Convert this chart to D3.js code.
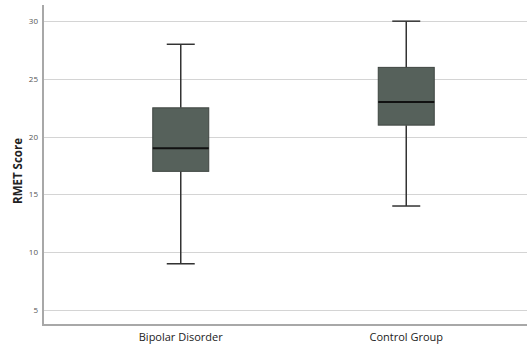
<!DOCTYPE html>
<html lang="en">
<head>
<meta charset="UTF-8">
<title>RMET Score boxplot</title>
<script src="https://d3js.org/d3.v7.min.js"></script>
<style>
  body { margin: 0; background: #fff; }
  .grid line { stroke: #d4d4d4; stroke-width: 1px; }
  .tick-label { font: 8px "Open Sans", sans-serif; fill: #555; }
  .cat-label { font: 11px "Open Sans", sans-serif; fill: #222; }
  .y-title { font: bold 11.5px "Open Sans", sans-serif; fill: #222; }
</style>
</head>
<body>
<script>
  const groups = ["Bipolar Disorder", "Control Group"];
  const minVals = [9, 14];
  const q1Vals = [17, 21];
  const medianVals = [19, 23];
  const q3Vals = [22.5, 26];
  const maxVals = [28, 30];
  const yTicks = [5, 10, 15, 20, 25, 30];

  const width = 527, height = 344;
  const plotLeft = 43, plotBottom = 325, plotTop = 5;

  const svg = d3.select("body").append("svg")
    .attr("width", width)
    .attr("height", height);

  const y = d3.scaleLinear().domain([3.7, 31.4]).range([plotBottom, plotTop]);
  const x = d3.scalePoint().domain(groups).range([68, 519]).padding(0.5);

  // gridlines
  svg.append("g").attr("class", "grid")
    .selectAll("line")
    .data(yTicks)
    .enter().append("line")
    .attr("x1", plotLeft).attr("x2", width)
    .attr("y1", d => Math.round(y(d)) + 0.5)
    .attr("y2", d => Math.round(y(d)) + 0.5);

  // tick labels
  svg.selectAll(".tick-label")
    .data(yTicks)
    .enter().append("text")
    .attr("class", "tick-label")
    .attr("x", 38)
    .attr("y", d => y(d) + 3)
    .attr("text-anchor", "end")
    .text(d => d);

  // axes lines
  svg.append("line")
    .attr("x1", plotLeft).attr("x2", plotLeft)
    .attr("y1", plotTop).attr("y2", plotBottom + 1)
    .attr("stroke", "#a8a8a8").attr("stroke-width", 2);
  svg.append("line")
    .attr("x1", plotLeft - 1).attr("x2", width)
    .attr("y1", plotBottom).attr("y2", plotBottom)
    .attr("stroke", "#a8a8a8").attr("stroke-width", 2);

  const boxW = 56, capW = 28;
  const data = groups.map((g, i) => ({
    g, min: minVals[i], q1: q1Vals[i], med: medianVals[i], q3: q3Vals[i], max: maxVals[i]
  }));

  const box = svg.selectAll(".box")
    .data(data)
    .enter().append("g")
    .attr("class", "box");

  // whiskers
  box.append("line")
    .attr("x1", d => x(d.g)).attr("x2", d => x(d.g))
    .attr("y1", d => y(d.max)).attr("y2", d => y(d.q3))
    .attr("stroke", "#333").attr("stroke-width", 1.5);
  box.append("line")
    .attr("x1", d => x(d.g)).attr("x2", d => x(d.g))
    .attr("y1", d => y(d.q1)).attr("y2", d => y(d.min))
    .attr("stroke", "#333").attr("stroke-width", 1.5);

  // caps
  box.append("line")
    .attr("x1", d => x(d.g) - capW / 2).attr("x2", d => x(d.g) + capW / 2)
    .attr("y1", d => y(d.max)).attr("y2", d => y(d.max))
    .attr("stroke", "#333").attr("stroke-width", 1.5);
  box.append("line")
    .attr("x1", d => x(d.g) - capW / 2).attr("x2", d => x(d.g) + capW / 2)
    .attr("y1", d => y(d.min)).attr("y2", d => y(d.min))
    .attr("stroke", "#333").attr("stroke-width", 1.5);

  // box
  box.append("rect")
    .attr("x", d => x(d.g) - boxW / 2)
    .attr("width", boxW)
    .attr("y", d => y(d.q3))
    .attr("height", d => y(d.q1) - y(d.q3))
    .attr("fill", "#56615b")
    .attr("stroke", "#3f4541")
    .attr("stroke-width", 1);

  // median
  box.append("line")
    .attr("x1", d => x(d.g) - boxW / 2).attr("x2", d => x(d.g) + boxW / 2)
    .attr("y1", d => y(d.med)).attr("y2", d => y(d.med))
    .attr("stroke", "#111").attr("stroke-width", 2);

  // category labels
  svg.selectAll(".cat-label")
    .data(groups)
    .enter().append("text")
    .attr("class", "cat-label")
    .attr("x", d => x(d))
    .attr("y", 341)
    .attr("text-anchor", "middle")
    .text(d => d);

  svg.append("text")
    .attr("class", "y-title")
    .attr("transform", "translate(22,171) rotate(-90)")
    .attr("text-anchor", "middle")
    .text("RMET Score");
</script>
</body>
</html>
